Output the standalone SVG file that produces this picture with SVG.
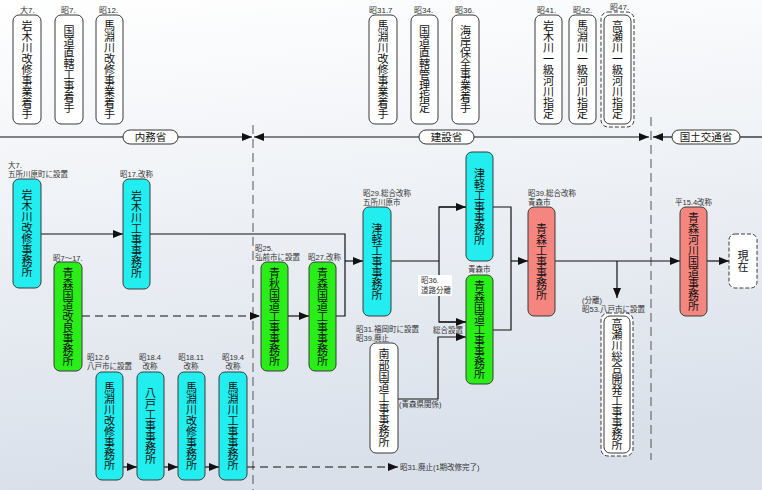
<svg xmlns="http://www.w3.org/2000/svg" width="762" height="490" viewBox="0 0 762 490">
<defs>
<linearGradient id="bg" x1="0" y1="0" x2="0.15" y2="1">
<stop offset="0" stop-color="#ffffff"/>
<stop offset="1" stop-color="#d9e0ea"/>
</linearGradient>
<marker id="ar" viewBox="0 0 10 8" refX="10" refY="4" markerWidth="10" markerHeight="8" markerUnits="userSpaceOnUse" orient="auto">
<path d="M0,0 L10,4 L0,8 z" fill="#111"/>
</marker>
<style>
.box{stroke:#3a3a3a;stroke-width:1}
.cy{fill:#22eef0}
.gr{fill:#2aee18}
.pk{fill:#f4857f}
.wh{fill:#ffffff}
.dsh{fill:#ffffff;stroke:#3a3a3a;stroke-width:1;stroke-dasharray:4 2}
.vt{font-family:"Noto Sans CJK JP","Noto Sans CJK SC",sans-serif;font-size:11px;writing-mode:vertical-rl;text-anchor:middle;fill:#111}
.lb{font-family:"Liberation Sans","Noto Sans CJK JP",sans-serif;font-size:7.5px;fill:#333}
.lt{font-family:"Liberation Sans","Noto Sans CJK JP",sans-serif;font-size:8px;fill:#333}
.pl{font-family:"Noto Sans CJK JP",sans-serif;font-size:10.5px;fill:#111;text-anchor:middle}
.ln{stroke:#111;stroke-width:1.2;fill:none}
.dl{stroke:#111;stroke-width:1.2;fill:none;stroke-dasharray:8 5}
.vd{stroke:#555;stroke-width:1;stroke-dasharray:9 5;fill:none}
.pill{fill:#fff;stroke:#333;stroke-width:1}
</style>
</defs>
<rect width="762" height="490" fill="url(#bg)"/>

<!-- era separators -->
<g id="separators">
<line class="vd" x1="253" y1="125" x2="253" y2="490"/>
<line class="vd" x1="651" y1="117" x2="651" y2="460"/>
</g>

<!-- timeline -->
<g id="timeline">
<line class="ln" x1="0" y1="137" x2="123" y2="137"/>
<line class="ln" x1="178" y1="137" x2="252" y2="137" marker-end="url(#ar)"/>
<line class="ln" x1="419" y1="137" x2="254" y2="137" marker-end="url(#ar)"/>
<line class="ln" x1="474" y1="137" x2="649" y2="137" marker-end="url(#ar)"/>
<line class="ln" x1="672" y1="137" x2="653" y2="137" marker-end="url(#ar)"/>
<line class="ln" x1="740" y1="137" x2="762" y2="137"/>
<g id="era-naimu"><rect class="pill" x="123" y="130" width="55" height="14" rx="7"/><text class="pl" x="150.5" y="141">内務省</text></g>
<g id="era-kensetsu"><rect class="pill" x="419" y="130" width="55" height="14" rx="7"/><text class="pl" x="446.5" y="141">建設省</text></g>
<g id="era-kokudo"><rect class="pill" x="672" y="130" width="68" height="14" rx="7"/><text class="pl" x="706" y="141">国土交通省</text></g>
</g>

<!-- top row events -->
<g id="t1"><text class="lt" x="20" y="13">大7.</text><rect class="box wh" x="13" y="15" width="28" height="109" rx="6"/><text class="vt" x="27" y="69.5">岩木川改修事業着手</text></g>
<g id="t2"><text class="lt" x="61" y="13">昭7.</text><rect class="box wh" x="55" y="15" width="28" height="109" rx="6"/><text class="vt" x="69" y="69.5">国道直轄工事着手</text></g>
<g id="t3"><text class="lt" x="99" y="13">昭12.</text><rect class="box wh" x="96" y="15" width="27" height="109" rx="6"/><text class="vt" x="109.5" y="69.5">馬淵川改修事業着手</text></g>
<g id="t4"><text class="lt" x="369" y="13">昭31.7</text><rect class="box wh" x="369" y="15" width="28" height="109" rx="6"/><text class="vt" x="383" y="69.5">馬淵川改修事業着手</text></g>
<g id="t5"><text class="lt" x="414" y="13">昭34.</text><rect class="box wh" x="411" y="15" width="27" height="109" rx="6"/><text class="vt" x="424.5" y="69.5">国道直轄管理指定</text></g>
<g id="t6"><text class="lt" x="455" y="13">昭36.</text><rect class="box wh" x="452" y="15" width="27" height="109" rx="6"/><text class="vt" x="465.5" y="69.5">海岸保全事業着手</text></g>
<g id="t7"><text class="lt" x="537" y="13">昭41.</text><rect class="box wh" x="535" y="15" width="27" height="109" rx="6"/><text class="vt" x="548.5" y="69.5">岩木川一級河川指定</text></g>
<g id="t8"><text class="lt" x="573" y="13">昭42.</text><rect class="box wh" x="569" y="15" width="27" height="109" rx="6"/><text class="vt" x="582.5" y="69.5">馬淵川一級河川指定</text></g>
<g id="t9"><rect class="dsh" x="601" y="12" width="33" height="115" rx="7"/><text class="lt" x="610" y="10">昭47.</text><rect class="box wh" x="604" y="15" width="27" height="109" rx="6"/><text class="vt" x="617.5" y="69.5">高瀬川一級河川指定</text></g>

<!-- connectors -->
<g id="connectors">
<line class="ln" x1="41" y1="234" x2="123" y2="234" marker-end="url(#ar)"/>
<polyline class="ln" points="150,234 345,234 345,316 336,316"/>
<line class="ln" x1="345" y1="261" x2="363" y2="261" marker-end="url(#ar)"/>
<line class="dl" x1="82" y1="316" x2="260" y2="316" marker-end="url(#ar)"/>
<line class="ln" x1="288" y1="316" x2="309" y2="316" marker-end="url(#ar)"/>
<polyline class="ln" points="391,261 439,261"/>
<polyline class="ln" points="466,207 439,207 439,322 466,322"/>
<line class="ln" x1="439" y1="207" x2="466" y2="207" marker-end="url(#ar)"/>
<line class="ln" x1="439" y1="322" x2="466" y2="322" marker-end="url(#ar)"/>
<polyline class="ln" points="398,399 438,399 438,337 466,337" marker-end="url(#ar)"/>
<polyline class="ln" points="493,207 511,207 511,330 493,330"/>
<line class="ln" x1="511" y1="261" x2="528" y2="261" marker-end="url(#ar)"/>
<line class="ln" x1="555" y1="261" x2="680" y2="261" marker-end="url(#ar)"/>
<line class="ln" x1="617" y1="261" x2="617" y2="298" marker-end="url(#ar)"/>
<line class="ln" x1="707" y1="261" x2="729" y2="261" marker-end="url(#ar)"/>
<line class="ln" x1="123" y1="467" x2="137" y2="467" marker-end="url(#ar)"/>
<line class="ln" x1="164" y1="467" x2="178" y2="467" marker-end="url(#ar)"/>
<line class="ln" x1="205" y1="467" x2="219" y2="467" marker-end="url(#ar)"/>
<line class="dl" x1="247" y1="467" x2="398" y2="467" marker-end="url(#ar)"/>
<rect x="418" y="275" width="34" height="21" fill="#ffffff"/>
<text class="lb" x="421" y="283">昭36.</text>
<text class="lb" x="421" y="293">道路分離</text>
<text class="lb" x="433" y="333">総合設置</text>
<text class="lb" x="399" y="407" font-size="7">(青森県関係)</text>
<text class="lb" x="400" y="470">昭31.廃止(1期改修完了)</text>
</g>

<!-- offices -->
<g id="n1"><text class="lb" x="8" y="168">大7.</text><text class="lb" x="8" y="177">五所川原町に設置</text><rect class="box cy" x="13" y="179" width="28" height="109" rx="6"/><text class="vt" x="27" y="233.5">岩木川改修事務所</text></g>
<g id="n2"><text class="lb" x="120" y="177">昭17.改称</text><rect class="box cy" x="123" y="179" width="27" height="110" rx="6"/><text class="vt" x="136.5" y="234">岩木川工事事務所</text></g>
<g id="n3"><text class="lb" x="53" y="261">昭7～17.</text><rect class="box gr" x="54" y="262" width="28" height="109" rx="6"/><text class="vt" x="68" y="316.5">青森国道改良事務所</text></g>
<g id="n4"><text class="lb" x="255" y="251">昭25.</text><text class="lb" x="255" y="260">弘前市に設置</text><rect class="box gr" x="261" y="262" width="27" height="109" rx="6"/><text class="vt" x="274.5" y="316.5">青秋国道工事事務所</text></g>
<g id="n5"><text class="lb" x="308" y="260">昭27.改称</text><rect class="box gr" x="309" y="262" width="27" height="109" rx="6"/><text class="vt" x="322.5" y="316.5">青森国道工事事務所</text></g>
<g id="n6"><text class="lb" x="363" y="196">昭29.総合改称</text><text class="lb" x="363" y="205">五所川原市</text><rect class="box cy" x="363" y="207" width="28" height="109" rx="6"/><text class="vt" x="377" y="261.5">津軽工事事務所</text></g>
<g id="n7"><rect class="box cy" x="466" y="152" width="27" height="109" rx="6"/><text class="vt" x="479.5" y="206.5">津軽工事事務所</text></g>
<g id="n8"><text class="lb" x="468" y="272">青森市</text><rect class="box gr" x="466" y="275" width="27" height="109" rx="6"/><text class="vt" x="479.5" y="329.5">青森国道工事事務所</text></g>
<g id="n9"><text class="lb" x="356" y="332">昭31.福岡町に設置</text><text class="lb" x="356" y="341">昭39.廃止</text><rect class="box wh" x="370" y="343" width="28" height="110" rx="6"/><text class="vt" x="384" y="398">南部国道工事事務所</text></g>
<g id="n10"><text class="lb" x="528" y="196">昭39.総合改称</text><text class="lb" x="528" y="205">青森市</text><rect class="box pk" x="528" y="207" width="27" height="109" rx="6"/><text class="vt" x="541.5" y="261.5">青森工事事務所</text></g>
<g id="n11"><text class="lb" x="582" y="303">(分離)</text><text class="lb" x="582" y="312">昭53.八戸市に設置</text><rect class="dsh" x="601" y="313" width="32" height="143" rx="7"/><rect class="box wh" x="604" y="316" width="26" height="137" rx="6"/><text class="vt" x="617" y="384.5">高瀬川総合開発工事事務所</text></g>
<g id="n12"><text class="lb" x="675" y="205">平15.4改称</text><rect class="box pk" x="680" y="207" width="27" height="109" rx="6"/><text class="vt" x="693.5" y="261.5">青森河川国道事務所</text></g>
<g id="n13"><rect class="dsh" x="729" y="234" width="28" height="54" rx="6"/><text class="vt" x="743" y="261">現在</text></g>
<g id="b1"><text class="lb" x="87" y="360">昭12.6</text><text class="lb" x="87" y="369">八戸市に設置</text><rect class="box cy" x="96" y="372" width="27" height="108" rx="6"/><text class="vt" x="109.5" y="426">馬淵川改修事務所</text></g>
<g id="b2"><text class="lb" x="150" y="360" text-anchor="middle">昭18.4</text><text class="lb" x="150" y="369" text-anchor="middle">改称</text><rect class="box cy" x="137" y="372" width="27" height="108" rx="6"/><text class="vt" x="150.5" y="426">八戸工事事務所</text></g>
<g id="b3"><text class="lb" x="191" y="360" text-anchor="middle">昭18.11</text><text class="lb" x="191" y="369" text-anchor="middle">改称</text><rect class="box cy" x="178" y="372" width="27" height="108" rx="6"/><text class="vt" x="191.5" y="426">馬淵川改修事務所</text></g>
<g id="b4"><text class="lb" x="233" y="360" text-anchor="middle">昭19.4</text><text class="lb" x="233" y="369" text-anchor="middle">改称</text><rect class="box cy" x="219" y="372" width="28" height="108" rx="6"/><text class="vt" x="233" y="426">馬淵川工事事務所</text></g>
</svg>
